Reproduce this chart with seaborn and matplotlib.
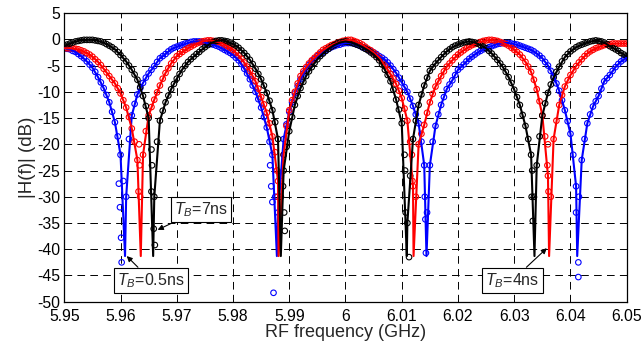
import matplotlib
matplotlib.use("Agg")
import matplotlib.pyplot as plt
import pandas as pd
import seaborn as sns

# ---------------- data ----------------
freq_ghz = [
    5.950, 5.951, 5.952, 5.953, 5.954, 5.955, 5.956, 5.957, 5.958, 5.959,
    5.960, 5.961, 5.962, 5.963, 5.964, 5.965, 5.966, 5.967, 5.968, 5.969,
    5.970, 5.971, 5.972, 5.973, 5.974, 5.975, 5.976, 5.977, 5.978, 5.979,
    5.980, 5.981, 5.982, 5.983, 5.984, 5.985, 5.986, 5.987, 5.988, 5.989,
    5.990, 5.991, 5.992, 5.993, 5.994, 5.995, 5.996, 5.997, 5.998, 5.999,
    6.000, 6.001, 6.002, 6.003, 6.004, 6.005, 6.006, 6.007, 6.008, 6.009,
    6.010, 6.011, 6.012, 6.013, 6.014, 6.015, 6.016, 6.017, 6.018, 6.019,
    6.020, 6.021, 6.022, 6.023, 6.024, 6.025, 6.026, 6.027, 6.028, 6.029,
    6.030, 6.031, 6.032, 6.033, 6.034, 6.035, 6.036, 6.037, 6.038, 6.039,
    6.040, 6.041, 6.042, 6.043, 6.044, 6.045, 6.046, 6.047, 6.048, 6.049,
    6.050,
]

# T_B = 0.5 ns (blue)
blue_db = [
    -1.7, -1.9, -2.4, -3.2, -4.2, -5.4, -7.2, -9.3, -12.0, -15.8,
    -22.0, -30.0, -14.5, -10.5, -8.3, -6.5, -5.1, -3.6, -2.8, -1.9,
    -1.4, -1.0, -0.7, -0.4, -0.4, -0.6, -0.9, -1.2, -1.7, -2.3,
    -3.0, -4.0, -5.6, -7.6, -10.0, -13.0, -16.8, -22.0, -33.0, -19.0,
    -13.8, -10.3, -7.6, -5.6, -4.2, -3.2, -2.5, -1.8, -1.3, -1.0,
    -0.7, -0.7, -1.0, -1.5, -2.0, -2.5, -3.2, -3.9, -5.0, -6.4,
    -8.2, -10.0, -12.7, -16.0, -24.0, -24.0, -16.5, -12.5, -9.5, -7.8,
    -5.8, -4.8, -3.7, -2.9, -2.2, -1.7, -1.3, -0.9, -0.7, -0.7,
    -0.9, -1.2, -1.6, -2.0, -2.7, -3.6, -5.0, -7.0, -9.8, -13.5,
    -18.0, -28.0, -23.0, -16.0, -12.8, -10.8, -8.0, -6.8, -5.3, -4.2,
    -3.5,
]

# T_B = 4 ns (red)
red_db = [
    -1.7, -1.7, -1.8, -2.1, -2.6, -3.3, -4.3, -5.6, -7.0, -8.4,
    -10.3, -13.0, -17.0, -23.0, -22.0, -14.5, -11.5, -8.8, -6.4, -4.6,
    -3.2, -2.4, -1.7, -1.1, -0.6, -0.3, -0.2, -0.4, -0.7, -1.3,
    -2.0, -3.1, -4.4, -6.0, -8.0, -11.0, -14.0, -18.5, -27.0, -22.0,
    -13.5, -10.0, -7.0, -5.3, -4.0, -3.0, -2.0, -1.4, -0.9, -0.5,
    -0.2, -0.1, -0.5, -1.0, -1.8, -2.5, -3.5, -5.0, -6.6, -8.5,
    -11.2, -15.5, -28.0, -20.0, -16.3, -12.0, -9.0, -7.0, -5.2, -4.0,
    -2.9, -2.1, -1.4, -0.9, -0.5, -0.2, -0.1, -0.3, -0.7, -1.2,
    -2.0, -2.9, -4.3, -6.2, -9.5, -14.5, -26.0, -19.0, -12.5, -9.0,
    -6.8, -5.1, -3.8, -2.7, -2.0, -1.5, -1.1, -0.9, -0.8, -0.8,
    -0.8,
]

# T_B = 7 ns (black)
black_db = [
    -1.2, -0.8, -0.4, -0.2, -0.1, -0.1, -0.3, -0.6, -1.2, -1.9,
    -3.0, -4.2, -5.8, -7.7, -10.8, -15.0, -30.0, -15.5, -12.0, -9.5,
    -7.5, -5.7, -4.3, -3.3, -2.4, -1.5, -0.8, -0.3, -0.2, -0.4,
    -0.9, -1.6, -2.6, -3.9, -5.6, -7.6, -10.2, -13.5, -19.0, -25.0,
    -17.5, -12.5, -9.3, -7.0, -5.3, -3.8, -2.7, -1.8, -1.1, -0.6,
    -0.4, -0.6, -1.0, -1.5, -2.1, -2.9, -4.0, -5.8, -8.0, -11.5,
    -16.0, -35.0, -19.0, -12.5, -8.8, -6.0, -4.6, -3.4, -2.3, -1.5,
    -1.0, -0.6, -0.4, -0.6, -1.1, -1.7, -2.7, -3.9, -5.3, -7.2,
    -9.6, -12.5, -16.5, -22.0, -24.0, -14.5, -10.2, -7.3, -5.2, -3.4,
    -2.3, -1.5, -1.0, -0.6, -0.3, -0.3, -0.6, -1.3, -1.9, -2.6,
    -3.2,
]

# extra measured samples half-way between the grid frequencies
freq_half_ghz = [
    5.9505, 5.9515, 5.9525, 5.9535, 5.9545, 5.9555, 5.9565, 5.9575, 5.9585, 5.9595,
    5.9605, 5.9615, 5.9625, 5.9635, 5.9645, 5.9655, 5.9665, 5.9675, 5.9685, 5.9695,
    5.9705, 5.9715, 5.9725, 5.9735, 5.9745, 5.9755, 5.9765, 5.9775, 5.9785, 5.9795,
    5.9805, 5.9815, 5.9825, 5.9835, 5.9845, 5.9855, 5.9865, 5.9875, 5.9885, 5.9895,
    5.9905, 5.9915, 5.9925, 5.9935, 5.9945, 5.9955, 5.9965, 5.9975, 5.9985, 5.9995,
    6.0005, 6.0015, 6.0025, 6.0035, 6.0045, 6.0055, 6.0065, 6.0075, 6.0085, 6.0095,
    6.0105, 6.0115, 6.0125, 6.0135, 6.0145, 6.0155, 6.0165, 6.0175, 6.0185, 6.0195,
    6.0205, 6.0215, 6.0225, 6.0235, 6.0245, 6.0255, 6.0265, 6.0275, 6.0285, 6.0295,
    6.0305, 6.0315, 6.0325, 6.0335, 6.0345, 6.0355, 6.0365, 6.0375, 6.0385, 6.0395,
    6.0405, 6.0415, 6.0425, 6.0435, 6.0445, 6.0455, 6.0465, 6.0475, 6.0485, 6.0495,
]
blue_half_db = [
    -1.8, -2.2, -2.8, -3.6, -4.8, -6.2, -8.2, -10.6, -13.8, -18.5,
    -27.0, -19.0, -12.3, -9.3, -7.3, -5.8, -4.3, -3.2, -2.3, -1.6,
    -1.2, -0.8, -0.5, -0.4, -0.5, -0.7, -1.0, -1.4, -2.0, -2.6,
    -3.5, -4.7, -6.5, -8.8, -11.4, -14.8, -19.5, -30.0, -26.0, -16.2,
    -12.0, -8.9, -6.5, -4.9, -3.7, -2.8, -2.1, -1.5, -1.1, -0.8,
    -0.7, -0.8, -1.2, -1.7, -2.2, -2.8, -3.5, -4.4, -5.7, -7.3,
    -9.1, -11.3, -14.3, -19.5, -33.0, -19.5, -14.3, -11.0, -8.6, -6.8,
    -5.3, -4.2, -3.3, -2.5, -1.9, -1.5, -1.1, -0.8, -0.7, -0.8,
    -1.0, -1.4, -1.8, -2.3, -3.1, -4.3, -6.0, -8.4, -11.6, -15.6,
    -22.0, -30.0, -19.0, -14.3, -11.8, -9.4, -7.4, -6.0, -4.7, -3.8,
]
red_half_db = [
    -1.7, -1.7, -1.9, -2.3, -2.9, -3.8, -4.9, -6.3, -7.7, -9.3,
    -11.6, -14.8, -19.5, -30.0, -17.5, -12.9, -10.1, -7.5, -5.5, -3.9,
    -2.8, -2.0, -1.4, -0.8, -0.4, -0.2, -0.3, -0.5, -1.0, -1.6,
    -2.5, -3.7, -5.2, -7.0, -9.4, -12.4, -16.0, -21.5, -28.0, -16.5,
    -11.6, -8.4, -6.1, -4.6, -3.5, -2.5, -1.7, -1.1, -0.7, -0.3,
    -0.1, -0.3, -0.7, -1.4, -2.1, -3.0, -4.2, -5.8, -7.5, -9.8,
    -13.2, -19.5, -30.0, -18.0, -14.0, -10.4, -8.0, -6.1, -4.6, -3.4,
    -2.5, -1.7, -1.1, -0.7, -0.3, -0.1, -0.2, -0.5, -0.9, -1.6,
    -2.4, -3.5, -5.2, -7.7, -11.8, -18.5, -30.0, -15.5, -10.6, -7.8,
    -5.9, -4.4, -3.2, -2.3, -1.7, -1.3, -1.0, -0.8, -0.8, -0.8,
]
black_half_db = [
    -1.0, -0.6, -0.3, -0.1, -0.1, -0.2, -0.4, -0.9, -1.5, -2.4,
    -3.6, -5.0, -6.7, -9.1, -12.7, -21.0, -19.5, -13.6, -10.7, -8.5,
    -6.6, -5.0, -3.8, -2.8, -1.9, -1.1, -0.5, -0.2, -0.3, -0.6,
    -1.2, -2.1, -3.2, -4.7, -6.6, -8.8, -11.7, -15.8, -30.0, -20.5,
    -14.8, -10.8, -8.1, -6.1, -4.5, -3.2, -2.2, -1.4, -0.8, -0.5,
    -0.5, -0.8, -1.2, -1.8, -2.5, -3.4, -4.8, -6.8, -9.6, -13.4,
    -22.0, -26.0, -15.5, -10.5, -7.3, -5.3, -4.0, -2.8, -1.9, -1.2,
    -0.8, -0.5, -0.5, -0.8, -1.4, -2.2, -3.3, -4.6, -6.2, -8.3,
    -11.0, -14.4, -19.0, -30.0, -18.5, -12.2, -8.6, -6.2, -4.2, -2.8,
    -1.9, -1.2, -0.8, -0.4, -0.2, -0.4, -0.9, -1.6, -2.2, -2.9,
]

# notch bottoms of the simulated curves
blue_notch_ghz = [5.9608, 5.9878, 6.0144, 6.0412]
red_notch_ghz = [5.9636, 5.9881, 6.0121, 6.0362]
black_notch_ghz = [5.9658, 5.9885, 6.0109, 6.0336]
notch_floor_db = [-41.3, -41.3, -41.3, -41.3]

# scattered measured points inside the notches
blue_extra_ghz = [5.9602, 5.9601, 5.9599, 5.9597, 5.9872, 5.9868, 5.9866, 5.9870,
                  6.0143, 6.0142, 6.0141, 6.0414, 6.0414, 6.0410]
blue_extra_db = [-42.5, -37.8, -32.0, -27.5, -48.3, -28.0, -24.0, -31.0,
                 -40.7, -34.3, -30.0, -42.5, -45.3, -33.0]
red_extra_ghz = [5.9633, 5.9634, 5.9632, 5.9878, 5.9879, 6.0118, 6.0119,
                 6.0360, 6.0359, 6.0361]
red_extra_db = [-20.0, -24.0, -29.0, -25.0, -30.0, -22.0, -27.0,
                -20.0, -24.0, -29.0]
black_extra_ghz = [5.9659, 5.9661, 5.9655, 5.9656, 5.9892, 5.9891, 5.9889, 5.9890,
                   6.0113, 6.0107, 6.0106, 6.0333, 6.0331, 6.0332]
black_extra_db = [-36.1, -39.2, -29.0, -24.0, -36.5, -33.0, -28.0, -22.0,
                  -41.5, -33.0, -25.0, -34.6, -30.0, -25.0]

x_ticks = [5.95, 5.96, 5.97, 5.98, 5.99, 6.00, 6.01, 6.02, 6.03, 6.04, 6.05]
x_tick_labels = ["5.95", "5.96", "5.97", "5.98", "5.99", "6", "6.01", "6.02",
                 "6.03", "6.04", "6.05"]
y_ticks = [-50, -45, -40, -35, -30, -25, -20, -15, -10, -5, 0, 5]

# ---------------- style ----------------
sns.set_style("white")
plt.rcParams['font.family'] = ['Liberation Sans', 'DejaVu Sans']
plt.rcParams['mathtext.fontset'] = 'custom'
plt.rcParams['mathtext.rm'] = 'Liberation Sans'
plt.rcParams['mathtext.it'] = 'Liberation Sans:italic'
plt.rcParams['lines.scale_dashes'] = False

fig = plt.figure(figsize=(6.41, 3.47), dpi=100)
ax = fig.add_axes([0.1003, 0.1305, 0.8774, 0.8317])

series = [
    ("blue", blue_db, blue_half_db, blue_notch_ghz, blue_extra_ghz, blue_extra_db),
    ("red", red_db, red_half_db, red_notch_ghz, red_extra_ghz, red_extra_db),
    ("black", black_db, black_half_db, black_notch_ghz, black_extra_ghz, black_extra_db),
]

for color, db, half_db, notch, ex_f, ex_db in series:
    # measured (open circles)
    meas = pd.concat([
        pd.DataFrame({"f": freq_ghz, "db": db}),
        pd.DataFrame({"f": freq_half_ghz, "db": half_db}),
        pd.DataFrame({"f": ex_f, "db": ex_db}),
    ], ignore_index=True)
    sns.scatterplot(data=meas, x="f", y="db", ax=ax, marker="o", s=16,
                    facecolor="none", edgecolor=color, linewidth=0.8,
                    zorder=2, legend=False)
    # simulated (solid line)
    line = pd.concat([
        pd.DataFrame({"f": freq_ghz, "db": db}),
        pd.DataFrame({"f": notch, "db": notch_floor_db}),
    ], ignore_index=True).sort_values("f")
    sns.lineplot(data=line, x="f", y="db", ax=ax, color=color, lw=1.5,
                 sort=False, estimator=None, zorder=3, legend=False)

ax.set_xlim(5.95, 6.05)
ax.set_ylim(-50, 5)
ax.set_xticks(x_ticks)
ax.set_xticklabels(x_tick_labels)
ax.set_yticks(y_ticks)
ax.set_yticklabels([str(v) for v in y_ticks])
ax.tick_params(direction="in", length=3, labelsize=11.3, colors="black")
ax.tick_params(axis="x", pad=5)
ax.tick_params(axis="y", pad=3)
ax.grid(True, color="black", linestyle=(0, (5.5, 3.8)), linewidth=0.7)
for sp in ax.spines.values():
    sp.set_color("black")
    sp.set_linewidth(0.9)

ax.set_xlabel("RF frequency (GHz)", fontsize=13, labelpad=0)
ax.set_ylabel("|H(f)| (dB)", fontsize=13.5, labelpad=1)

box = dict(boxstyle="square,pad=0.2", fc="white", ec="black", lw=0.8)
arrow = dict(arrowstyle="-|>", color="black", lw=0.8, mutation_scale=8,
             shrinkA=0, shrinkB=0)
ax.annotate("$T_B$=7ns", xy=(5.9666, -36.3), xytext=(5.9743, -32.4),
            ha="center", va="center", fontsize=11.5, bbox=box,
            arrowprops=arrow, zorder=5)
ax.annotate("$T_B$=0.5ns", xy=(5.9611, -41.3), xytext=(5.9654, -45.9),
            ha="center", va="center", fontsize=11.5, bbox=box,
            arrowprops=arrow, zorder=5)
ax.annotate("$T_B$=4ns", xy=(6.0358, -39.8), xytext=(6.0297, -45.9),
            ha="center", va="center", fontsize=11.5, bbox=box,
            arrowprops=arrow, zorder=5)

fig.savefig("out.png", dpi=100)
